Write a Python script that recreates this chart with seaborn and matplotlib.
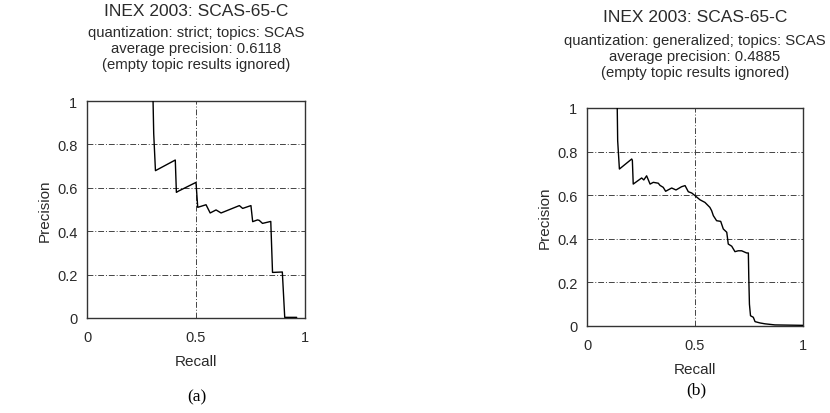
import matplotlib
matplotlib.use("Agg")
import matplotlib.pyplot as plt
import seaborn as sns
import pandas as pd

sns.set_theme(style="white")
plt.rcParams['font.family'] = ['Liberation Sans', 'DejaVu Sans']

# ---- data ----
recall_a = [0.303, 0.306, 0.314, 0.405, 0.410, 0.420, 0.500, 0.508, 0.524, 0.546,
            0.565, 0.592, 0.615, 0.699, 0.714, 0.752, 0.760, 0.782, 0.790, 0.805,
            0.843, 0.851, 0.896, 0.907, 0.962]
precision_a = [1.000, 0.850, 0.679, 0.728, 0.579, 0.585, 0.625, 0.510, 0.515, 0.522,
               0.484, 0.498, 0.484, 0.518, 0.505, 0.518, 0.444, 0.452, 0.450, 0.436,
               0.445, 0.210, 0.212, 0.003, 0.003]

recall_b = [0.140, 0.142, 0.150, 0.207, 0.210, 0.214, 0.253, 0.263, 0.276, 0.292,
            0.307, 0.330, 0.338, 0.353, 0.364, 0.392, 0.412, 0.438, 0.454, 0.469,
            0.485, 0.500, 0.523, 0.546, 0.569, 0.577, 0.585, 0.600, 0.619, 0.631,
            0.647, 0.654, 0.670, 0.685, 0.700, 0.716, 0.739, 0.747, 0.749, 0.752,
            0.757, 0.770, 0.778, 0.801, 0.824, 0.870, 1.000]
precision_b = [1.000, 0.850, 0.720, 0.766, 0.760, 0.651, 0.679, 0.670, 0.689, 0.651,
               0.659, 0.655, 0.645, 0.636, 0.618, 0.633, 0.624, 0.639, 0.644, 0.616,
               0.610, 0.598, 0.579, 0.567, 0.544, 0.529, 0.506, 0.483, 0.480, 0.445,
               0.430, 0.376, 0.366, 0.341, 0.345, 0.345, 0.335, 0.335, 0.223, 0.100,
               0.047, 0.040, 0.020, 0.014, 0.010, 0.005, 0.003]

title = "INEX 2003: SCAS-65-C"
subtitle_a = ["quantization: strict; topics: SCAS",
              "average precision: 0.6118",
              "(empty topic results ignored)"]
subtitle_b = ["quantization: generalized; topics: SCAS",
              "average precision: 0.4885",
              "(empty topic results ignored)"]
xticks = [0, 0.5, 1]
xticklabels = ["0", "0.5", "1"]
yticks = [0, 0.2, 0.4, 0.6, 0.8, 1]
yticklabels = ["0", "0.2", "0.4", "0.6", "0.8", "1"]

W, H = 830, 414
fig = plt.figure(figsize=(W / 100, H / 100), dpi=100)
TXT = "#2a2a2a"


def px_axes(x0, y0, x1, y1):
    return fig.add_axes([x0 / W, 1 - y1 / H, (x1 - x0) / W, (y1 - y0) / H])


def style(ax):
    ax.set_xlim(0, 1)
    ax.set_ylim(0, 1)
    ax.set_xticks(xticks)
    ax.set_xticklabels(xticklabels)
    ax.set_yticks(yticks)
    ax.set_yticklabels(yticklabels)
    ax.tick_params(axis="both", length=0, labelsize=10.5, colors=TXT)
    ax.tick_params(axis="y", pad=7)
    ax.tick_params(axis="x", pad=9)
    for v in [0.2, 0.4, 0.6, 0.8]:
        ax.axhline(v, color="#444444", lw=0.7, ls=(0, (6, 2, 1, 2)), zorder=1)
    ax.axvline(0.5, color="#444444", lw=0.7, ls=(0, (6, 2, 1, 2)), zorder=1)
    for s in ax.spines.values():
        s.set_color("#333333")
        s.set_linewidth(1.0)
        s.set_visible(True)
    ax.set_xlabel("Recall", fontsize=11, color=TXT, labelpad=7)
    ax.set_ylabel("Precision", fontsize=11, color=TXT, labelpad=4)


def draw(ax, r, p):
    df = pd.DataFrame({"Recall": r, "Precision": p})
    sns.lineplot(data=df, x="Recall", y="Precision", sort=False, estimator=None,
                 color="black", lw=1.0, ax=ax, zorder=3)


ax1 = px_axes(87, 102, 305, 319)
draw(ax1, recall_a, precision_a)
style(ax1)

ax2 = px_axes(587, 109, 803, 327)
draw(ax2, recall_b, precision_b)
style(ax2)

# titles
fig.text(196 / W, 1 - 12 / H, title, ha="center", va="center", fontsize=12.5, color=TXT)
for i, line in enumerate(subtitle_a):
    fig.text(196 / W, 1 - (33 + 16 * i) / H, line, ha="center", va="center",
             fontsize=10.7, color=TXT)
fig.text(695 / W, 1 - 18 / H, title, ha="center", va="center", fontsize=12.5, color=TXT)
for i, line in enumerate(subtitle_b):
    fig.text(695 / W, 1 - (41 + 16 * i) / H, line, ha="center", va="center",
             fontsize=10.7, color=TXT)

# panel labels
fig.text(197 / W, 1 - 397 / H, "(a)", ha="center", va="center", fontsize=12.5,
         family="Liberation Serif", color="black")
fig.text(696 / W, 1 - 390 / H, "(b)", ha="center", va="center", fontsize=12.5,
         family="Liberation Serif", color="black")

fig.savefig("out.png", dpi=100, facecolor="white")
